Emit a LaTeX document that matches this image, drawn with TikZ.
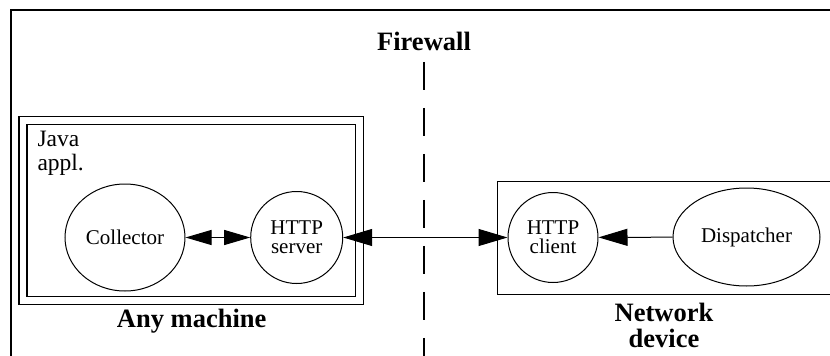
\documentclass[tikz,border=0pt]{standalone}
\usepackage{fontspec}
\setmainfont{Liberation Serif}
\usetikzlibrary{positioning,shapes.geometric,arrows.meta}

\begin{document}
\begin{tikzpicture} [
	x=1pt,y=-1pt,
	text centered,
	line width=1pt,
	nproc/.style={
		ellipse,draw,inner sep=0pt,
		font=\fontsize{21}{21}\selectfont
	},
	nhttp/.style={
		circle,draw,inner sep=0pt,align=center,
		font=\fontsize{21}{21}\selectfont
	},
	nhost/.style={
		rectangle,draw,inner sep=0pt
	},
	ntitle/.style={
		inner sep=0pt,align=center,
		font=\fontsize{26.5}{26}\selectfont\bfseries
	},
	bigtip/.style={-{Triangle[length=29pt,width=17pt]}},
	bigtips/.style={{Triangle[length=29pt,width=17pt]}-{Triangle[length=29pt,width=17pt]}},
	smalltips/.style={{Triangle[length=26pt,width=15pt]}-{Triangle[length=26pt,width=15pt]}}
]
\useasboundingbox (0,0) rectangle (830,356);
\draw [line width=1.5pt] (11,356) -- (11,10) -- (830,10);

\node [nhost,double,double distance=6.7pt,line width=1.3pt,
	minimum width=336.5pt,minimum height=180.4pt]	(machine)	at (191.2,210.5) {};
\node [inner sep=0pt,anchor=north west,align=left,
	font=\fontsize{23.5}{24}\selectfont]	(java)	at (37,131)	{Java\\appl.};
\node [nproc,minimum width=120pt,minimum height=107pt]	(collector)	at (125,237.5)	{Collector};
\node [nhttp,minimum size=92pt]	(server)	at (296.7,237.5)	{HTTP\\[-2pt]server}
	edge [smalltips]		(collector);
\node [ntitle]	(anymachine)	at (191.7,321.5)	{Any machine};

\node [nhost,line width=1.3pt,anchor=north west,
	minimum width=360pt,minimum height=113.5pt]	(device)	at (496.7,180.5) {};
\node [nhttp,minimum size=90pt]	(client)	at (553,237.5)	{HTTP\\[-2pt]client}
	edge [bigtips]		(server);
\node [nproc,minimum width=147pt,minimum height=98pt]	(dispatcher)	at (746.5,237)	{Dispatcher}
	edge [bigtip]		(client);
\node [ntitle]	(netdevice)	at (664,325.5)	{Network\\device};

\node [ntitle]	(firewall)	at (424,41)	{Firewall};
\coordinate [below=11pt of firewall]	(walltop);
\coordinate	(wallend)	at (424,356);
\draw [line width=1.3pt,dash pattern=on 28pt off 18pt]	(walltop) -- (wallend);
\end{tikzpicture}
\end{document}
